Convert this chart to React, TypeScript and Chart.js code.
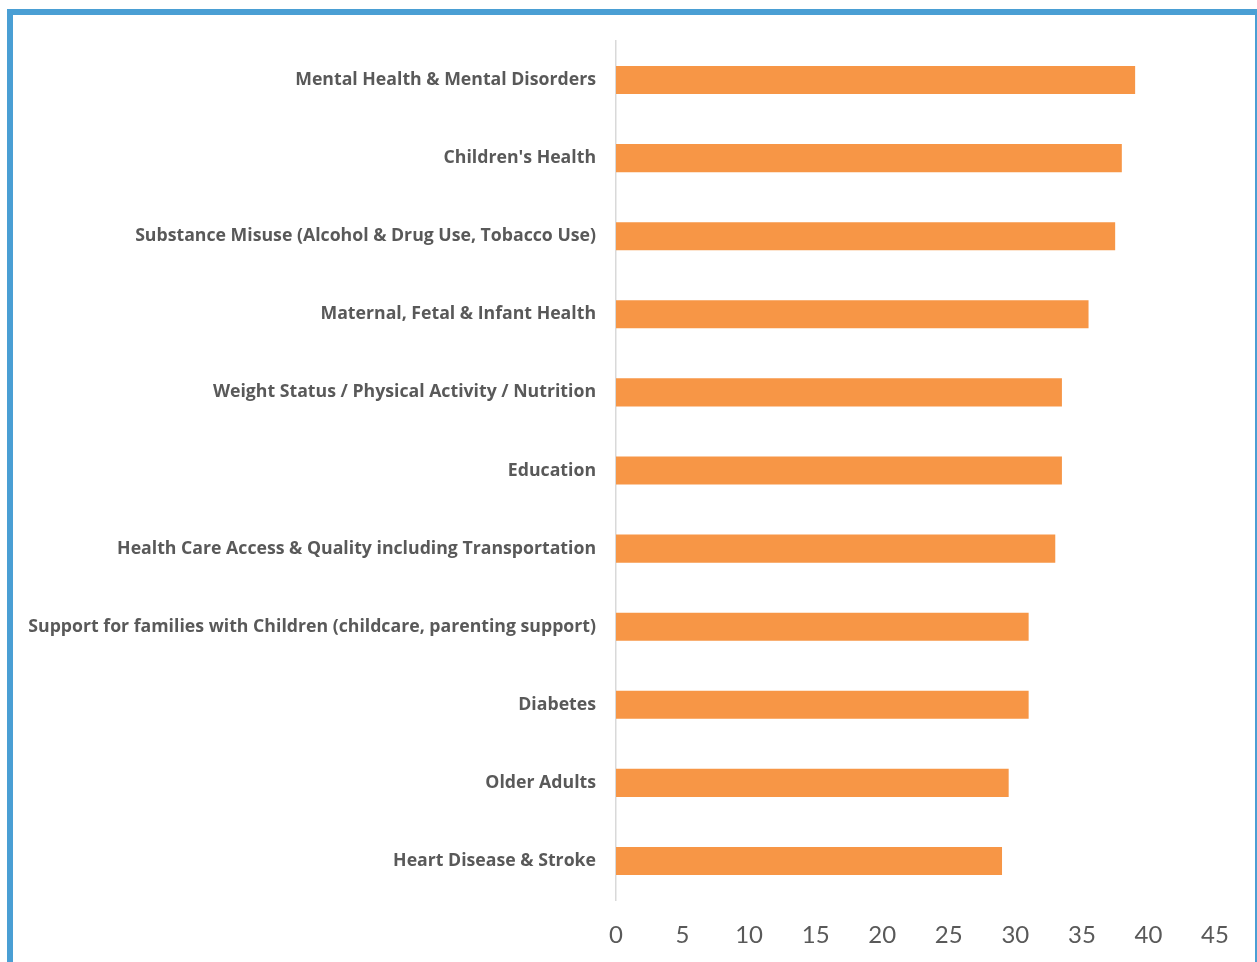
import React, { useEffect, useRef } from "react";
import { Chart, registerables } from "chart.js";

Chart.register(...registerables);

const categories = [
  "Mental Health & Mental Disorders",
  "Children's Health",
  "Substance Misuse (Alcohol & Drug Use, Tobacco Use)",
  "Maternal, Fetal & Infant Health",
  "Weight Status / Physical Activity / Nutrition",
  "Education",
  "Health Care Access & Quality including Transportation",
  "Support for families with Children (childcare, parenting support)",
  "Diabetes",
  "Older Adults",
  "Heart Disease & Stroke",
];

const values = [39, 38, 37.5, 35.5, 33.5, 33.5, 33, 31, 31, 29.5, 29];

const xMin = 0;
const xMax = 45;
const xStep = 5;

export default function App() {
  const ref = useRef<HTMLCanvasElement | null>(null);

  useEffect(() => {
    if (!ref.current) return;
    const chart = new Chart(ref.current, {
      type: "bar",
      data: {
        labels: categories,
        datasets: [
          {
            data: values,
            backgroundColor: "#f79646",
            borderWidth: 0,
            categoryPercentage: 1,
            barPercentage: 0.36,
          },
        ],
      },
      options: {
        indexAxis: "y",
        animation: false,
        responsive: false,
        maintainAspectRatio: false,
        layout: { padding: { top: 41, right: 42, left: 0, bottom: 0 } },
        plugins: { legend: { display: false }, tooltip: { enabled: false } },
        scales: {
          y: {
            grid: { display: false, drawTicks: false },
            border: { display: true, color: "#d9d9d9", width: 1.5 },
            ticks: {
              color: "#595959",
              padding: 20,
              font: { family: "Open Sans", weight: "bold", size: 17.7 },
            },
            afterFit: (scale: any) => {
              scale.width = 616;
            },
          },
          x: {
            min: xMin,
            max: xMax,
            grid: { display: false, drawTicks: false },
            border: { display: false },
            ticks: {
              stepSize: xStep,
              color: "#595959",
              padding: 21,
              font: { family: "Lato", size: 24 },
            },
            afterFit: (scale: any) => {
              scale.height = 62;
            },
          },
        },
      },
    });
    return () => chart.destroy();
  }, []);

  return (
    <div style={{ position: "fixed", left: 0, top: 0, width: 1257, height: 962, background: "#fff", overflow: "hidden" }}>
      <div
        style={{
          position: "absolute",
          left: 7,
          top: 9,
          width: 1254,
          height: 1000,
          border: "6px solid #4a9fd4",
          boxSizing: "border-box",
        }}
      />
      <canvas ref={ref} width={1257} height={962} style={{ position: "absolute", left: 0, top: 0 }} />
    </div>
  );
}
